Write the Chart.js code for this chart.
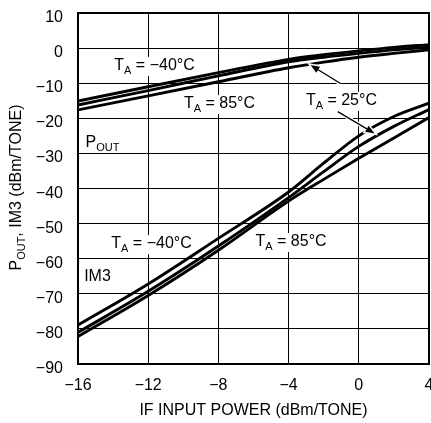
<!DOCTYPE html>
<html>
<head>
<meta charset="utf-8">
<script src="https://cdn.jsdelivr.net/npm/chart.js@4.4.1/dist/chart.umd.min.js"></script>
<style>
  html, body { margin: 0; padding: 0; background: #fff; overflow: hidden; }
  #wrap { width: 445px; height: 423px; }
</style>
</head>
<body>
<div id="wrap"><canvas id="chart" width="445" height="423"></canvas></div>
<script>
// ========================================
// POUT / IM3 vs IF input power
// ========================================

// IF input power (dBm/tone)
const inputPower = [-16, -12, -8, -4, -2, 0, 2, 4];

// POUT (dBm/tone)
const poutM40 = [-15.1, -11.0, -7.0, -3.2, -1.9, -0.8, 0.2, 1.0];
const pout25 = [-16.2, -12.1, -7.9, -3.9, -2.6, -1.5, -0.5, 0.3];
const pout85 = [-17.6, -13.6, -9.6, -5.6, -4.0, -2.6, -1.5, -0.5];

// IM3 (dBm/tone)
const im3M40 = [-78.9, -67.2, -54.2, -41.0, -32.8, -25.0, -19.5, -15.7];
const im325 = [-81.0, -69.3, -56.4, -42.6, -35.2, -28.0, -22.3, -17.5];
const im385 = [-82.2, -70.5, -57.6, -43.6, -37.4, -31.4, -25.6, -19.8];

// axis ticks
const xTicks = [-16, -12, -8, -4, 0, 4];
const yTicks = [10, 0, -10, -20, -30, -40, -50, -60, -70, -80, -90];

const FONT = "'Liberation Sans Narrow', 'Liberation Sans', Arial, sans-serif";

// labels inside the plot: [main, subscript, rest, x, y]
const notes = [
    ['T', 'A', ' = −40°C', -11.64, -6.2],
    ['T', 'A', ' = 85°C', -7.94, -17.1],
    ['T', 'A', ' = 25°C', -0.99, -16.2],
    ['P', 'OUT', '', -14.6, -28.2],
    ['T', 'A', ' = −40°C', -11.81, -57.0],
    ['IM3', '', '', -14.89, -66.4],
    ['T', 'A', ' = 85°C', -3.86, -56.4]
];

// arrows: [fromX, fromY, toX, toY]
const arrows = [
    [-1.04, -10.1, -2.75, -4.8],
    [-1.2, -18.1, 0.9, -24.3]
];

function toPoints(ys) {
    return inputPower.map((x, i) => ({ x: x, y: ys[i] }));
}

function minus(v) {
    return v < 0 ? '−' + Math.abs(v) : String(v);
}

// text with subscript, centred at cx, baseline at by
function subText(ctx, main, sub, rest, cx, by, bg) {
    ctx.font = '16px ' + FONT;
    const w1 = ctx.measureText(main).width;
    const w3 = ctx.measureText(rest).width;
    ctx.font = '11px ' + FONT;
    const w2 = sub ? ctx.measureText(sub).width : 0;
    const total = w1 + w2 + w3;
    let x = cx - total / 2;
    if (bg) {
        ctx.fillStyle = '#fff';
        ctx.fillRect(x - 2, by - 13, total + 4, 19);
    }
    ctx.fillStyle = '#000';
    ctx.textAlign = 'left';
    ctx.textBaseline = 'alphabetic';
    ctx.font = '16px ' + FONT;
    ctx.fillText(main, x, by);
    x += w1;
    if (sub) {
        ctx.font = '11px ' + FONT;
        ctx.fillText(sub, x, by + 4);
        x += w2;
    }
    ctx.font = '16px ' + FONT;
    ctx.fillText(rest, x, by);
}

// labels behind the curves
const notePlugin = {
    id: 'notes',
    beforeDatasetsDraw(chart) {
        const ctx = chart.ctx;
        const xs = chart.scales.x, ys = chart.scales.y;
        ctx.save();
        notes.forEach(n => {
            const bg = n[0] === 'T';
            subText(ctx, n[0], n[1], n[2], xs.getPixelForValue(n[3]), ys.getPixelForValue(n[4]), bg);
        });
        ctx.restore();
    },
    afterDatasetsDraw(chart) {
        const ctx = chart.ctx;
        const xs = chart.scales.x, ys = chart.scales.y;
        const a = chart.chartArea;
        ctx.save();

        // arrows with white halo
        arrows.forEach(ar => {
            const x1 = xs.getPixelForValue(ar[0]), y1 = ys.getPixelForValue(ar[1]);
            const x2 = xs.getPixelForValue(ar[2]), y2 = ys.getPixelForValue(ar[3]);
            const ang = Math.atan2(y2 - y1, x2 - x1);
            const len = 9, half = 3.5;
            const bx = x2 - len * Math.cos(ang), by = y2 - len * Math.sin(ang);
            const head = () => {
                ctx.beginPath();
                ctx.moveTo(x2, y2);
                ctx.lineTo(bx + half * Math.sin(ang), by - half * Math.cos(ang));
                ctx.lineTo(bx - half * Math.sin(ang), by + half * Math.cos(ang));
                ctx.closePath();
            };
            ctx.strokeStyle = '#fff';
            ctx.lineWidth = 4;
            ctx.beginPath();
            ctx.moveTo(x1, y1);
            ctx.lineTo(bx, by);
            ctx.stroke();
            head();
            ctx.lineWidth = 3;
            ctx.stroke();
            ctx.strokeStyle = '#000';
            ctx.lineWidth = 1.3;
            ctx.beginPath();
            ctx.moveTo(x1, y1);
            ctx.lineTo(bx, by);
            ctx.stroke();
            head();
            ctx.fillStyle = '#000';
            ctx.fill();
        });

        // frame
        ctx.strokeStyle = '#000';
        ctx.lineWidth = 2;
        ctx.strokeRect(a.left, a.top, a.right - a.left, a.bottom - a.top);

        // tick labels
        ctx.fillStyle = '#000';
        ctx.font = '16px ' + FONT;
        ctx.textBaseline = 'alphabetic';
        ctx.textAlign = 'center';
        xTicks.forEach(v => ctx.fillText(minus(v), xs.getPixelForValue(v), a.bottom + 26));
        ctx.textAlign = 'right';
        yTicks.forEach(v => ctx.fillText(minus(v), a.left - 15, ys.getPixelForValue(v) + 9));

        // x title
        ctx.textAlign = 'center';
        ctx.fillText('IF INPUT POWER (dBm/TONE)', (a.left + a.right) / 2, 415);

        // y title, rotated
        ctx.translate(21, (a.top + a.bottom) / 2 - 1);
        ctx.rotate(-Math.PI / 2);
        ctx.font = '16px ' + FONT;
        const p1 = 'P', p3 = ', IM3 (dBm/TONE)';
        const w1 = ctx.measureText(p1).width, w3 = ctx.measureText(p3).width;
        ctx.font = '11px ' + FONT;
        const w2 = ctx.measureText('OUT').width;
        let x = -(w1 + w2 + w3) / 2;
        ctx.textAlign = 'left';
        ctx.font = '16px ' + FONT;
        ctx.fillText(p1, x, 0);
        x += w1;
        ctx.font = '11px ' + FONT;
        ctx.fillText('OUT', x, 4);
        x += w2;
        ctx.font = '16px ' + FONT;
        ctx.fillText(p3, x, 0);
        ctx.restore();
    }
};

const curve = ys => ({
    data: toPoints(ys),
    borderColor: '#000',
    borderWidth: 2.9,
    pointRadius: 0,
    fill: false,
    cubicInterpolationMode: 'monotone'
});

new Chart(document.getElementById('chart').getContext('2d'), {
    type: 'line',
    data: {
        datasets: [
            curve(poutM40), curve(pout25), curve(pout85),
            curve(im3M40), curve(im325), curve(im385)
        ]
    },
    options: {
        responsive: false,
        animation: false,
        events: [],
        layout: { padding: { left: 0, top: 13, right: 16, bottom: 0 } },
        plugins: {
            legend: { display: false },
            tooltip: { enabled: false }
        },
        scales: {
            x: {
                type: 'linear',
                min: -16,
                max: 4,
                ticks: { stepSize: 4, display: false },
                grid: { color: '#000', lineWidth: 1, drawTicks: false },
                border: { display: false },
                afterFit(scale) { scale.height = 59; }
            },
            y: {
                type: 'linear',
                min: -90,
                max: 10,
                ticks: { stepSize: 10, display: false },
                grid: { color: '#000', lineWidth: 1, drawTicks: false },
                border: { display: false },
                afterFit(scale) { scale.width = 78; }
            }
        }
    },
    plugins: [notePlugin]
});
</script>
</body>
</html>
